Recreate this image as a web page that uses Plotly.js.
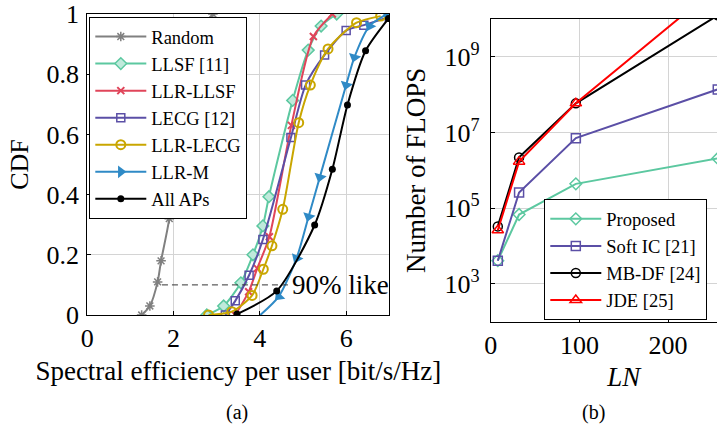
<!DOCTYPE html>
<html><head><meta charset="utf-8">
<script src="https://cdn.plot.ly/plotly-3.0.1.min.js"></script>
<style>html,body{margin:0;padding:0;overflow:hidden;width:717px;height:434px;background:#fff}</style>
</head><body><div id="chart" style="width:760px;height:434px"></div>
<script>
// ---- (a) CDF data ----
const randomX = [1.26, 1.45, 1.63, 1.71, 1.90, 2.25, 2.91];
const randomY = [0, 0.03, 0.11, 0.18, 0.32, 0.80, 1.0];
const llsfX = [2.77, 3.16, 3.56, 3.84, 4.07, 4.21, 4.76, 5.12, 5.42, 5.78];
const llsfY = [0, 0.03, 0.107, 0.2, 0.296, 0.393, 0.713, 0.88, 0.96, 1.0];
const llrLlsfX = [3.43, 3.74, 3.94, 4.22, 4.73, 5.24, 5.68];
const llrLlsfY = [0, 0.077, 0.155, 0.26, 0.63, 0.925, 1.0];
const lecgX = [3.20, 3.43, 3.75, 4.07, 4.72, 5.06, 5.50, 6.0, 6.41, 7.0];
const lecgY = [0, 0.047, 0.132, 0.251, 0.59, 0.764, 0.864, 0.945, 0.963, 0.99];
const llrLecgX = [2.81, 3.35, 3.82, 4.08, 4.28, 4.53, 4.90, 5.17, 5.58, 6.24, 6.80];
const llrLecgY = [0, 0.011, 0.065, 0.152, 0.23, 0.351, 0.639, 0.764, 0.884, 0.971, 0.993];
const llrMX = [4.01, 4.44, 4.85, 5.13, 5.39, 6.0, 6.19, 6.54, 6.95];
const llrMY = [0, 0.062, 0.188, 0.327, 0.458, 0.764, 0.856, 0.96, 1.0];
const allApX = [3.47, 4.39, 5.27, 5.68, 6.03, 6.45, 6.98];
const allApY = [0.003, 0.08, 0.299, 0.484, 0.698, 0.878, 0.985];
const refLineX = [1.73, 4.72];
const refLineY = [0.1, 0.1];
const cdfTicks = [0, 0.2, 0.4, 0.6, 0.8, 1];
const cdfTickText = ['0', '0.2', '0.4', '0.6', '0.8', '1'];

// ---- (b) complexity data ----
const LN = [8, 32, 96, 256];
const proposed = [4.1e3, 6.8e4, 4.4e5, 2.06e6];
const softIC = [4.1e3, 2.6e5, 7.1e6, 1.38e8];
const mbdf = [3.3e4, 2.2e6, 5.9e7, 1.25e10];
const jde = [2.6e4, 1.7e6, 5.9e7, 7.3e10];
const flopTicks = [1e3, 1e5, 1e7, 1e9];
const flopTickText = ['10<sup>3</sup>', '10<sup>5</sup>', '10<sup>7</sup>', '10<sup>9</sup>'];

const serif = 'Liberation Serif';
const cTeal = '#5cc8a0', cRed = '#e0455a', cPurple = '#5b4fa6', cGold = '#c9a600', cBlue = '#2f8ac6', cGray = '#808080';

function lineTrace(name, x, y, color, extra) {
  return Object.assign({
    type: 'scatter', mode: 'lines+markers', name: name, x: x, y: y,
    xaxis: 'x', yaxis: 'y', legend: 'legend', legendgroup: name,
    line: {color: color, width: 2, shape: 'spline', smoothing: 0.7}
  }, extra || {});
}

const traces = [
  lineTrace('Random', randomX, randomY, cGray, {marker: {symbol: 'asterisk-open', size: 8, line: {color: cGray, width: 1.5}}}),
  lineTrace('LLSF [11]', llsfX, llsfY, cTeal, {marker: {symbol: 'diamond', size: 9, color: '#bfeadb', line: {color: cTeal, width: 1.5}}}),
  lineTrace('LLR-LLSF', llrLlsfX, llrLlsfY, cRed, {marker: {symbol: 'x-thin-open', size: 7, line: {color: cRed, width: 2}}}),
  lineTrace('LECG [12]', lecgX, lecgY, cPurple, {marker: {symbol: 'square-open', size: 8, line: {color: cPurple, width: 1.5}}}),
  lineTrace('LLR-LECG', llrLecgX, llrLecgY, cGold, {marker: {symbol: 'circle-open', size: 9, line: {color: cGold, width: 2}}}),
  lineTrace('LLR-M', llrMX, llrMY, cBlue, {showlegend: false, marker: {symbol: 'triangle-down', angleref: 'previous', size: 11, color: cBlue}}),
  lineTrace('LLR-M', [null], [null], cBlue, {legendgroup: 'LLR-M-legend', marker: {symbol: 'triangle-right', size: 11, color: cBlue}}),
  lineTrace('All APs', allApX, allApY, '#000000', {marker: {symbol: 'circle', size: 7, color: '#000'}}),
  {type: 'scatter', mode: 'lines', x: refLineX, y: refLineY, xaxis: 'x', yaxis: 'y', showlegend: false,
   line: {color: '#333', width: 1, dash: '6px,4px'}, hoverinfo: 'skip'},
];

function rTrace(name, y, color, symbol, size) {
  return {type: 'scatter', mode: 'lines+markers', name: name, x: LN, y: y,
    xaxis: 'x2', yaxis: 'y2', legend: 'legend2', legendgroup: 'b' + name,
    line: {color: color, width: 2},
    marker: {symbol: symbol, size: size, color: color, line: {color: color, width: 1.5}}};
}
traces.push(rTrace('Proposed', proposed, cTeal, 'diamond-open', 9));
traces.push(rTrace('Soft IC [21]', softIC, cPurple, 'square-open', 9));
traces.push(rTrace('MB-DF [24]', mbdf, '#000000', 'circle-open', 9));
traces.push(rTrace('JDE [25]', jde, '#ff0000', 'triangle-up-open', 10));

const W = 760, H = 434;
const tickFont = {family: serif, size: 26, color: '#000'};
const axBase = {showline: true, linecolor: '#000', linewidth: 1, mirror: true, zeroline: false,
  gridcolor: '#d4d4d4', gridwidth: 1, ticks: 'inside', ticklen: 4, tickcolor: '#000', tickfont: tickFont};

const layout = {
  width: W, height: H, margin: {l: 0, r: 0, t: 0, b: 0},
  paper_bgcolor: '#fff', plot_bgcolor: '#fff',
  font: {family: serif, color: '#000'},
  xaxis: Object.assign({}, axBase, {domain: [87.3 / W, 389.3 / W], range: [0, 7], dtick: 2, tick0: 0, anchor: 'y',
    title: {text: 'Spectral efficiency per user [bit/s/Hz]', font: {family: serif, size: 27, color: '#000'}, standoff: 8}}),
  yaxis: Object.assign({}, axBase, {domain: [(H - 315) / H, (H - 14) / H], range: [0, 1], anchor: 'x',
    tickvals: cdfTicks, ticktext: cdfTickText, ticklabelstandoff: 2,
    title: {text: 'CDF', font: {family: serif, size: 26, color: '#000'}, standoff: 10}}),
  xaxis2: Object.assign({}, axBase, {domain: [490.7 / W, 756.8 / W], range: [0, 300], dtick: 100, anchor: 'y2',
    title: {text: '<i>LN</i>', font: {family: serif, size: 27, color: '#000'}, standoff: 8}}),
  yaxis2: Object.assign({}, axBase, {domain: [(H - 321.7) / H, (H - 19) / H], type: 'log', range: [2, 10], anchor: 'x2',
    tickvals: flopTicks, ticktext: flopTickText, ticklabelstandoff: 5,
    title: {text: 'Number of FLOPS', font: {family: serif, size: 27, color: '#000'}, standoff: 10}}),
  legend: {x: 89.3 / W, y: (H - 17) / H, xanchor: 'left', yanchor: 'top', bgcolor: '#fff', bordercolor: '#000', borderwidth: 1,
    font: {family: serif, size: 18.5, color: '#000'}, tracegroupgap: 0, itemwidth: 51},
  legend2: {x: 544.3 / W, y: (H - 199.3) / H, xanchor: 'left', yanchor: 'top', bgcolor: '#fff', bordercolor: '#000', borderwidth: 1,
    font: {family: serif, size: 18.5, color: '#000'}, tracegroupgap: 0, itemwidth: 51},
  annotations: [
    {text: '90% like', x: 4.70, y: 0.1, xref: 'x', yref: 'y', xanchor: 'left', yanchor: 'middle', showarrow: false,
     font: {family: serif, size: 27, color: '#000'}},
    {text: '(a)', x: 237 / W, y: (H - 412) / H, xref: 'paper', yref: 'paper', xanchor: 'center', yanchor: 'middle', showarrow: false,
     font: {family: serif, size: 20, color: '#000'}},
    {text: '(b)', x: 593 / W, y: (H - 412) / H, xref: 'paper', yref: 'paper', xanchor: 'center', yanchor: 'middle', showarrow: false,
     font: {family: serif, size: 20, color: '#000'}}
  ],
  showlegend: true
};

Plotly.newPlot('chart', traces, layout, {displayModeBar: false, staticPlot: true});
</script></body></html>
